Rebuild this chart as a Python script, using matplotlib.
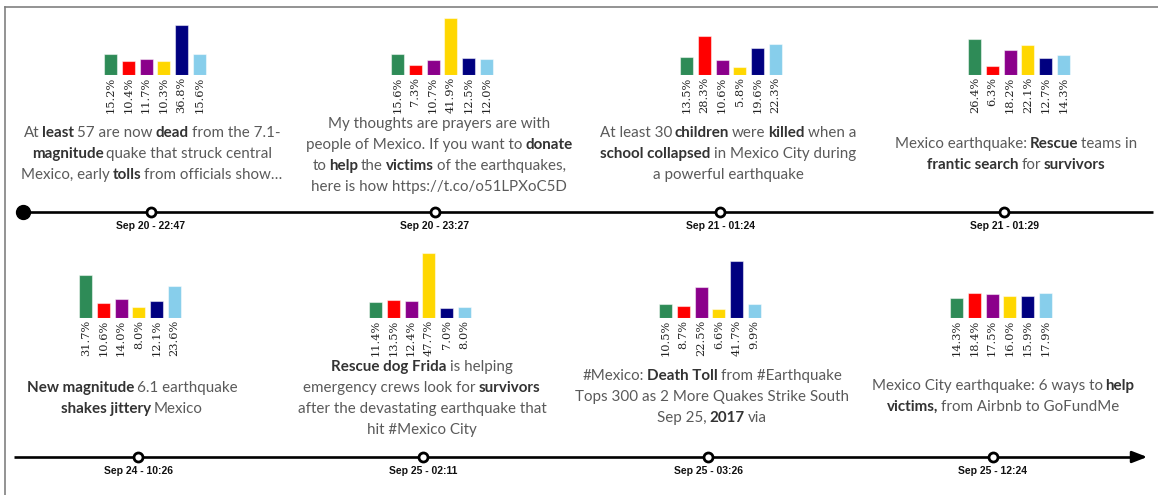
import matplotlib
matplotlib.use("Agg")
import matplotlib.pyplot as plt
from matplotlib.offsetbox import TextArea, HPacker, AnnotationBbox

# ---- data ----
topic_colors = ["#2e8b57", "#ff0000", "#8b008b", "#ffd700", "#000080", "#87ceeb"]

times_top = ["Sep 20 - 22:47", "Sep 20 - 23:27", "Sep 21 - 01:24", "Sep 21 - 01:29"]
times_bottom = ["Sep 24 - 10:26", "Sep 25 - 02:11", "Sep 25 - 03:26", "Sep 25 - 12:24"]

shares_top = [
    [15.2, 10.4, 11.7, 10.3, 36.8, 15.6],
    [15.6, 7.3, 10.7, 41.9, 12.5, 12.0],
    [13.5, 28.3, 10.6, 5.8, 19.6, 22.3],
    [26.4, 6.3, 18.2, 22.1, 12.7, 14.3],
]
shares_bottom = [
    [31.7, 10.6, 14.0, 8.0, 12.1, 23.6],
    [11.4, 13.5, 12.4, 47.7, 7.0, 8.0],
    [10.5, 8.7, 22.5, 6.6, 41.7, 9.9],
    [14.3, 18.4, 17.5, 16.0, 15.9, 17.9],
]

# ** marks the words drawn in bold
tweets_top = [
    ["At **least** 57 are now **dead** from the 7.1-",
     "**magnitude** quake that struck central",
     "Mexico, early **tolls** from officials show\u2026"],
    ["My thoughts are prayers are with",
     "people of Mexico. If you want to **donate**",
     "to **help** the **victims** of the earthquakes,",
     "here is how https://t.co/o51LPXoC5D"],
    ["At least 30 **children** were **killed** when a",
     "**school collapsed** in Mexico City during",
     "a powerful earthquake"],
    ["Mexico earthquake: **Rescue** teams in",
     "**frantic search** for **survivors**"],
]
tweets_bottom = [
    ["**New magnitude** 6.1 earthquake",
     "**shakes jittery** Mexico"],
    ["**Rescue dog Frida** is helping",
     "emergency crews look for **survivors**",
     "after the devastating earthquake that",
     "hit #Mexico City"],
    ["#Mexico: **Death Toll** from #Earthquake",
     "Tops 300 as 2 More Quakes Strike South",
     "Sep 25, **2017** via"],
    ["Mexico City earthquake: 6 ways to **help**",
     "**victims,** from Airbnb to GoFundMe"],
]

# ---- layout (pixels) ----
W, H = 1158, 495
marks_top = [151, 435, 720, 1004]
marks_bottom = [138, 423, 708, 993]
bars_top = [155, 442, 731, 1019]
bars_bottom = [130, 420, 710, 1001]
line_top_y, line_bottom_y = 212, 457
base_top, base_bottom = 75, 318
text_top_y = [133, 124, 133, 144]
text_bottom_y = [388, 367, 376, 386]
LINE_H = 21
PX_PER_PCT = 1.37
PITCH = 17.7

fig = plt.figure(figsize=(W / 100, H / 100), dpi=100)
ax = fig.add_axes([0, 0, 1, 1])
ax.set_xlim(0, W)
ax.set_ylim(H, 0)
ax.axis("off")

# frame lines
ax.plot([5, W], [7, 7], color="#808080", lw=1.2)
ax.plot([5, 5], [7, H], color="#808080", lw=1.2)


def draw_bars(cx, base, values):
    width = 6 * PITCH
    ymax = 50
    left = (cx - width / 2) / W
    bottom = 1 - base / H
    a = fig.add_axes([left, bottom, width / W, ymax * PX_PER_PCT / H])
    a.bar(range(6), values, width=0.73, color=topic_colors,
          edgecolor=(1, 1, 1, 0.5), linewidth=0.8)
    a.set_xlim(-0.5, 5.5)
    a.set_ylim(0, ymax)
    a.axis("off")
    for i, v in enumerate(values):
        a.annotate("{:.1f}%".format(v), (i, 0), xytext=(0, -1.5),
                   textcoords="offset points", rotation=90, ha="center",
                   va="top", fontsize=8.2, family="DejaVu Serif",
                   color="#222222", annotation_clip=False)


def draw_tweet(cx, y0, lines):
    fs = 10.9
    for k, line in enumerate(lines):
        parts = line.split("**")
        children = []
        for j, part in enumerate(parts):
            part = part.strip()
            if not part:
                continue
            bold = j % 2 == 1
            children.append(TextArea(part, textprops=dict(
                family="Lato", fontsize=fs,
                fontweight="bold" if bold else "normal",
                color="#333333" if bold else "#5a5a5a")))
        box = HPacker(children=children, align="baseline", pad=0, sep=0.19 * fs)
        ab = AnnotationBbox(box, (cx, y0 + k * LINE_H), frameon=False,
                            box_alignment=(0.5, 0.5), pad=0)
        ax.add_artist(ab)


def draw_timeline(y, x0, x1, marks, labels, start_dot, arrow):
    ax.plot([x0, x1], [y, y], color="black", lw=1.9, solid_capstyle="butt", zorder=2)
    if start_dot:
        ax.plot([x0], [y], "o", color="black", ms=10, zorder=3)
    if arrow:
        ax.annotate("", xy=(x1 + 12, y), xytext=(x1 - 2, y),
                    arrowprops=dict(arrowstyle="-|>,head_length=0.9,head_width=0.35",
                                    color="black", lw=1.9))
    ax.plot(marks, [y] * len(marks), "o", mfc="white", mec="black", ms=6.5,
            mew=2, zorder=4)
    for x, lab in zip(marks, labels):
        ax.text(x, y + 14, lab, ha="center", va="center", fontsize=7.5,
                family="Liberation Sans", fontweight="bold", color="#111111")


draw_timeline(line_top_y, 23, 1153, marks_top, times_top, True, False)
draw_timeline(line_bottom_y, 14, 1138, marks_bottom, times_bottom, False, True)

for cx, vals in zip(bars_top, shares_top):
    draw_bars(cx, base_top, vals)
for cx, vals in zip(bars_bottom, shares_bottom):
    draw_bars(cx, base_bottom, vals)

for cx, y0, lines in zip(bars_top, text_top_y, tweets_top):
    draw_tweet(cx - 3, y0, lines)
for cx, y0, lines in zip(bars_bottom, text_bottom_y, tweets_bottom):
    draw_tweet(cx + 2, y0, lines)

fig.savefig("out.png", dpi=100)
